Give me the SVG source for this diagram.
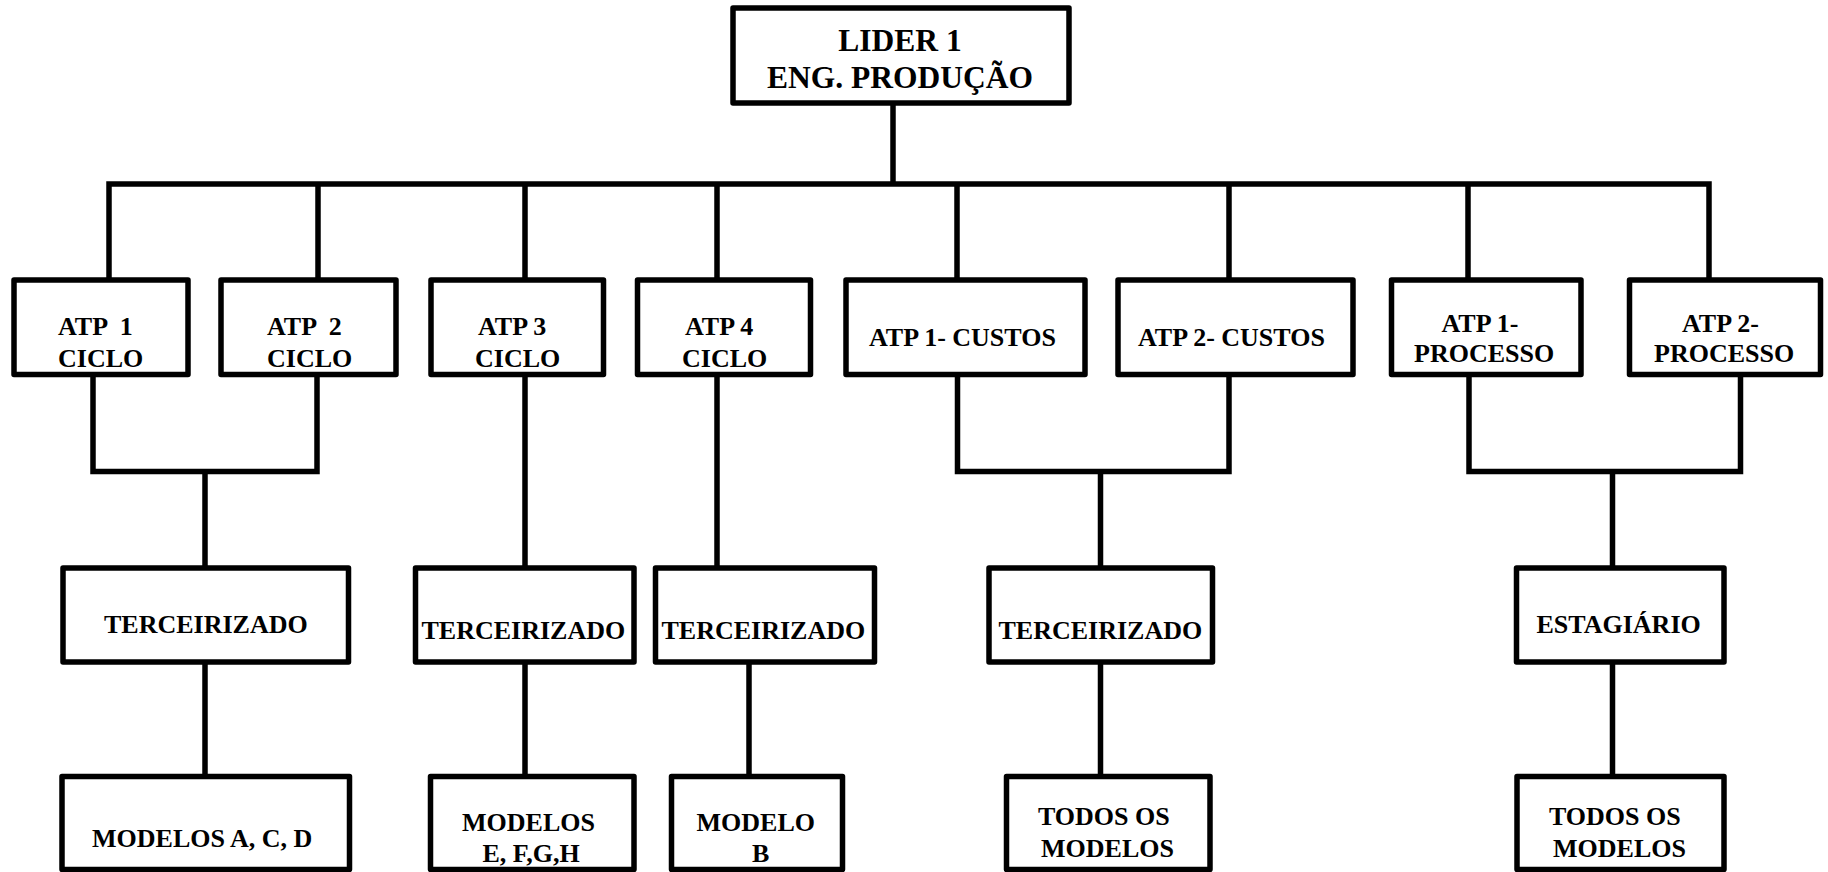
<svg xmlns="http://www.w3.org/2000/svg" width="1828" height="872" viewBox="0 0 1828 872">
<style>
.box{fill:#fff;stroke:#000;stroke-width:5.5;stroke-linejoin:round}
.con{fill:none;stroke:#000;stroke-width:5.5;stroke-linejoin:miter;stroke-linecap:butt}
text{font-family:"Liberation Serif","Times New Roman",serif;font-weight:bold;font-size:26px;fill:#000}
.big{font-size:31.5px}
.m{text-anchor:middle}
</style>
<rect width="1828" height="872" fill="#fff"/>
<g id="connectors">
<path class="con" d="M893,103 V184"/>
<path class="con" d="M109,280 V184 H1709 V280"/>
<path class="con" d="M318,184 V280 M525,184 V280 M717,184 V280 M957,184 V280 M1229,184 V280 M1468,184 V280"/>
<path class="con" d="M93,374 V471.5 H317 V374 M205,471.5 V568"/>
<path class="con" d="M525,374 V568 M717,374 V568"/>
<path class="con" d="M957.5,374 V471.5 H1229 V374 M1100.5,471.5 V568"/>
<path class="con" d="M1469,374 V471.5 H1740.5 V374 M1612.5,471.5 V568"/>
<path class="con" d="M205,662 V776.5 M525,662 V776.5 M749,662 V776.5 M1100.5,662 V776.5 M1612.5,662 V776.5"/>
</g>
<g id="lider"><rect class="box" x="733" y="8" width="336" height="95"/>
<text class="big m" x="900" y="50.5">LIDER 1</text><text class="big m" x="900" y="87.5">ENG. PRODUÇÃO</text></g>
<g id="atp1ciclo"><rect class="box" x="14" y="280" width="174" height="94.5"/>
<text x="58" y="335" xml:space="preserve">ATP  1</text><text x="58" y="367">CICLO</text></g>
<g id="atp2ciclo"><rect class="box" x="221" y="280" width="175" height="94.5"/>
<text x="267" y="335" xml:space="preserve">ATP  2</text><text x="267" y="367">CICLO</text></g>
<g id="atp3ciclo"><rect class="box" x="431" y="280" width="172.5" height="94.5"/>
<text x="478" y="335">ATP 3</text><text x="475" y="367">CICLO</text></g>
<g id="atp4ciclo"><rect class="box" x="637.5" y="280" width="173" height="94.5"/>
<text x="685" y="335">ATP 4</text><text x="682" y="367">CICLO</text></g>
<g id="atp1custos"><rect class="box" x="846" y="280" width="239" height="94.5"/>
<text x="869" y="345.5">ATP 1- CUSTOS</text></g>
<g id="atp2custos"><rect class="box" x="1118" y="280" width="235" height="94.5"/>
<text x="1138" y="345.5">ATP 2- CUSTOS</text></g>
<g id="atp1processo"><rect class="box" x="1391.5" y="280" width="189.5" height="94.5"/>
<text x="1441.5" y="332">ATP 1-</text><text x="1414" y="362">PROCESSO</text></g>
<g id="atp2processo"><rect class="box" x="1629.5" y="280" width="191" height="94.5"/>
<text x="1682" y="332">ATP 2-</text><text x="1654" y="362">PROCESSO</text></g>
<g id="terc1"><rect class="box" x="63" y="568" width="285.5" height="94"/>
<text x="104" y="633">TERCEIRIZADO</text></g>
<g id="terc3"><rect class="box" x="415.5" y="568" width="218.5" height="94"/>
<text x="421.5" y="639">TERCEIRIZADO</text></g>
<g id="terc4"><rect class="box" x="655.5" y="568" width="219" height="94"/>
<text x="661.5" y="639">TERCEIRIZADO</text></g>
<g id="terc5"><rect class="box" x="989" y="568" width="223.5" height="94"/>
<text x="998.5" y="639">TERCEIRIZADO</text></g>
<g id="estagiario"><rect class="box" x="1516.5" y="568" width="207.5" height="94"/>
<text x="1536.5" y="633">ESTAGIÁRIO</text></g>
<g id="modelosacd"><rect class="box" x="62" y="776.5" width="287.5" height="93"/>
<text x="92" y="847">MODELOS A, C, D</text></g>
<g id="modelosefgh"><rect class="box" x="430.5" y="776.5" width="203.5" height="93"/>
<text x="462" y="831">MODELOS</text><text x="482.5" y="862">E, F,G,H</text></g>
<g id="modelob"><rect class="box" x="671.5" y="776.5" width="171" height="93"/>
<text x="696.5" y="831">MODELO</text><text x="752" y="862">B</text></g>
<g id="todos1"><rect class="box" x="1006.5" y="776.5" width="203.5" height="93"/>
<text x="1038" y="824.5">TODOS OS</text><text x="1041" y="857">MODELOS</text></g>
<g id="todos2"><rect class="box" x="1517" y="776.5" width="207" height="93"/>
<text x="1549" y="824.5">TODOS OS</text><text x="1553" y="857">MODELOS</text></g>
</svg>
